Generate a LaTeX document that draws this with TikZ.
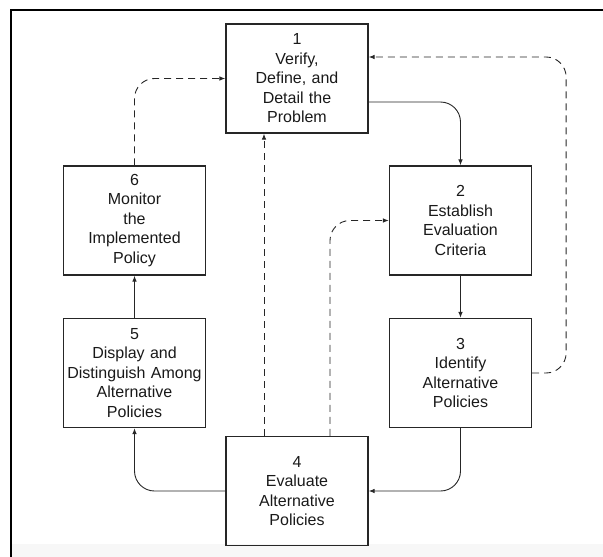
\documentclass[tikz,border=0pt]{standalone}
\usepackage{fontspec}
\setmainfont{Liberation Sans}
\usetikzlibrary{arrows.meta}
\usetikzlibrary{calc}

\begin{document}
\begin{tikzpicture}[
  x=1pt, y=-1pt,
  font=\fontsize{16}{19.5}\selectfont,
  stage/.style={draw=black!85, line width=1.2pt, text=black!90, align=center,
    text width=138pt, inner sep=2pt, minimum width=142pt, minimum height=109pt},
  flow/.style={draw=black!85, line width=0.9pt, rounded corners=20pt,
    -{Latex[length=6pt,width=4.5pt]}},
  feedback/.style={flow, dash pattern=on 7pt off 5pt},
  frame/.style={line width=2pt, black}
]
\useasboundingbox (0,0) rectangle (603,557);

% Frame and shaded strip at the bottom
\fill[black!3] (12,544) rectangle (603,557);
\draw[frame] (11,557) -- (11,10) -- (603,10);

% The six stages
\node[stage] (verify)   at (297,78.5)  {1\\Verify,\\Define, and\\Detail the\\Problem};
\node[stage] (criteria) at (460.5,220.5) {2\\Establish\\Evaluation\\Criteria};
\node[stage] (identify) at (460.5,373) {3\\Identify\\Alternative\\Policies};
\node[stage] (evaluate) at (297,491)   {4\\Evaluate\\Alternative\\Policies};
\node[stage] (display)  at (134.5,373) {5\\Display and\\Distinguish Among\\Alternative\\Policies};
\node[stage] (monitor)  at (134.5,220.5) {6\\Monitor\\the\\Implemented\\Policy};

% Main cycle
\draw[flow] ([yshift=-23.5pt]verify.east) -| (criteria.north);
\draw[flow] (criteria) -- (identify);
\draw[flow] (identify.south) |- (evaluate.east);
\draw[flow] (evaluate.west) -| (display.south);
\draw[flow] (display) -- (monitor);

% Feedback loops
\draw[feedback] (monitor.north) |- (verify.west);
\draw[feedback] ([xshift=-33pt]evaluate.north) -- ([xshift=-33pt]verify.south);
\draw[feedback] ([xshift=33pt]evaluate.north) |- (criteria.west);
\draw[feedback] (identify.east) -- ++(34,0) |- ([yshift=21.5pt]verify.east);

\end{tikzpicture}
\end{document}
